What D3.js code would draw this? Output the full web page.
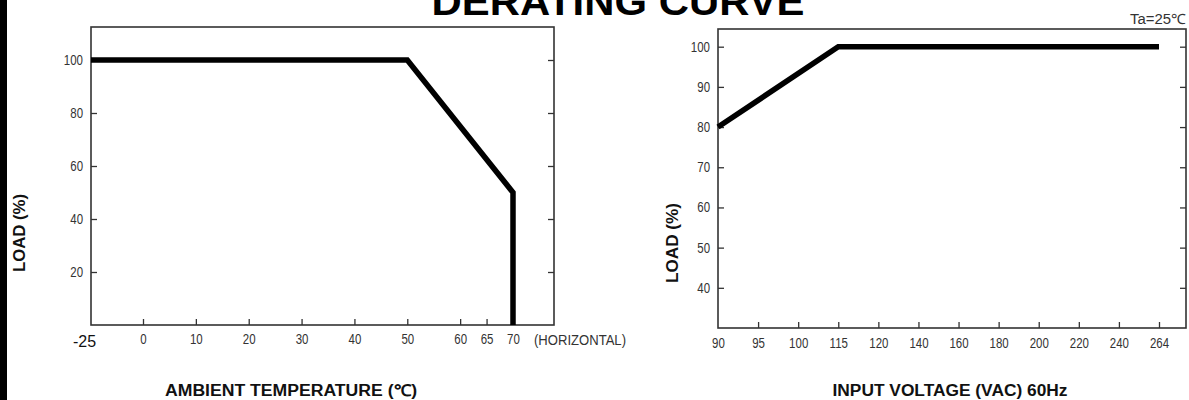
<!DOCTYPE html>
<html><head><meta charset="utf-8">
<script src="https://cdn.jsdelivr.net/npm/d3@7"></script>
<style>
body{margin:0;background:#fff;}
svg{display:block;}
.nar{font-family:'Liberation Sans',Arial,sans-serif;}
</style></head>
<body>
<svg id="c" width="1189" height="400"></svg>
<script>
// ---- data ----
const tempTicks = [-25, 0, 10, 20, 30, 40, 50, 60, 65, 70];
const tempLoadTicks = [20, 40, 60, 80, 100];
const tempX = [-25, 50, 70, 70];
const tempLoad = [100, 100, 50, 0];

const voltTicks = ["90","95","100","115","120","140","160","180","200","220","240","264"];
const voltLoadTicks = [40, 50, 60, 70, 80, 90, 100];
const voltX = ["90", "115", "264"];
const voltLoad = [80, 100, 100];

const svg = d3.select("#c");
const frameColor = "#333";
const labColor = "#333";
const SX = 0.82; // narrow-font emulation

// left border bar
svg.append("rect").attr("x",0).attr("y",0).attr("width",7).attr("height",400).attr("fill","#000");

// title
svg.append("text").attr("x",618).attr("y",15).attr("text-anchor","middle")
  .attr("font-family","'Liberation Sans',Arial,sans-serif").attr("font-weight","bold")
  .attr("font-size",38).attr("textLength",373).attr("lengthAdjust","spacingAndGlyphs")
  .attr("fill","#000").text("DERATING CURVE");

function styleLabels(sel){
  sel.attr("class","nar").attr("font-size",14).attr("fill",labColor).attr("font-family",null);
}

function frame(b){
  svg.append("rect").attr("x",b.x0).attr("y",b.y0).attr("width",b.x1-b.x0).attr("height",b.y1-b.y0)
    .attr("fill","none").attr("stroke",frameColor).attr("stroke-width",1.6);
}

function yTicks(scale, ticks, b){
  const gl = svg.append("g").attr("transform",`translate(${b.x0},0)`)
    .call(d3.axisLeft(scale).tickValues(ticks).tickSizeInner(-6).tickSizeOuter(0).tickPadding(8));
  gl.select(".domain").remove();
  gl.selectAll("line").attr("stroke",frameColor).attr("stroke-width",1.3);
  styleLabels(gl.selectAll("text"));
  gl.selectAll("text").attr("x",-8/SX).attr("transform",`scale(${SX},1)`);
  const gr = svg.append("g").attr("transform",`translate(${b.x1},0)`)
    .call(d3.axisRight(scale).tickValues(ticks).tickSizeInner(-6).tickSizeOuter(0).tickFormat(""));
  gr.select(".domain").remove();
  gr.selectAll("line").attr("stroke",frameColor).attr("stroke-width",1.3);
}

// ===== Left chart =====
const L = {x0:91, x1:554, y0:27, y1:325};
const xL = d3.scaleLinear().domain([-25, 0, 70]).range([91, 143, 513]);
const yL = d3.scaleLinear().domain([0, 100]).range([325, 60]);

frame(L);
yTicks(yL, tempLoadTicks, L);

const gxL = svg.append("g").attr("transform",`translate(0,${L.y1})`)
  .call(d3.axisBottom(xL).tickValues(tempTicks).tickFormat(d=>String(d)).tickSizeInner(-6).tickSizeOuter(0).tickPadding(9));
gxL.select(".domain").remove();
gxL.selectAll("line").attr("stroke",frameColor).attr("stroke-width",1.3);
styleLabels(gxL.selectAll("text"));
gxL.selectAll("text").attr("transform",`scale(${SX},1)`);
gxL.selectAll(".tick").filter(d=>d===-25).each(function(){
  d3.select(this).select("line").remove();
  d3.select(this).select("text").attr("transform",null).attr("font-family","'Liberation Sans',Arial,sans-serif")
    .attr("font-size",16).attr("fill","#111").attr("x",-7).attr("dy","0.8em");
});

svg.append("text").attr("class","nar").attr("x",534).attr("y",345).attr("font-size",14)
  .attr("fill",labColor).attr("textLength",92).attr("lengthAdjust","spacingAndGlyphs").text("(HORIZONTAL)");

const lineL = d3.line().x((d,i)=>xL(tempX[i])).y(d=>yL(d));
svg.append("path").attr("d",lineL(tempLoad)).attr("fill","none").attr("stroke","#000")
  .attr("stroke-width",5.5).attr("stroke-linejoin","miter");

svg.append("text").attr("class","nar").attr("x",291).attr("y",396).attr("text-anchor","middle")
  .attr("font-weight","bold").attr("font-size",16).attr("fill","#111")
  .attr("textLength",252).attr("lengthAdjust","spacingAndGlyphs").text("AMBIENT TEMPERATURE (℃)");
svg.append("text").attr("class","nar").attr("transform","translate(25,233) rotate(-90)")
  .attr("text-anchor","middle").attr("font-weight","bold").attr("font-size",16).attr("fill","#111")
  .attr("textLength",78).attr("lengthAdjust","spacingAndGlyphs").text("LOAD (%)");

// ===== Right chart =====
const R = {x0:718, x1:1186, y0:29, y1:328};
const xR = d3.scalePoint().domain(voltTicks).range([718, 1159]);
const yR = d3.scaleLinear().domain([30, 100]).range([328, 46.7]);

frame(R);
yTicks(yR, voltLoadTicks, R);

const gxR = svg.append("g").attr("transform",`translate(0,${R.y1})`)
  .call(d3.axisBottom(xR).tickSizeInner(-6).tickSizeOuter(0).tickPadding(10));
gxR.select(".domain").remove();
gxR.selectAll("line").attr("stroke",frameColor).attr("stroke-width",1.3);
styleLabels(gxR.selectAll("text"));
gxR.selectAll("text").attr("transform",`scale(${SX},1)`);
gxR.selectAll(".tick").filter(d=>d==="90").select("line").remove();

const lineR = d3.line().x((d,i)=>xR(voltX[i])).y(d=>yR(d));
svg.append("path").attr("d",lineR(voltLoad)).attr("fill","none").attr("stroke","#000")
  .attr("stroke-width",5.5).attr("stroke-linejoin","miter");

svg.append("text").attr("class","nar").attr("x",1186).attr("y",24).attr("text-anchor","end")
  .attr("font-size",14).attr("fill",labColor).attr("textLength",56).attr("lengthAdjust","spacingAndGlyphs").text("Ta=25℃");

svg.append("text").attr("class","nar").attr("x",950).attr("y",396).attr("text-anchor","middle")
  .attr("font-weight","bold").attr("font-size",16).attr("fill","#111")
  .attr("textLength",235).attr("lengthAdjust","spacingAndGlyphs").text("INPUT VOLTAGE (VAC) 60Hz");
svg.append("text").attr("class","nar").attr("transform","translate(678,243) rotate(-90)")
  .attr("text-anchor","middle").attr("font-weight","bold").attr("font-size",16).attr("fill","#111")
  .attr("textLength",80).attr("lengthAdjust","spacingAndGlyphs").text("LOAD (%)");
</script>
</body></html>
